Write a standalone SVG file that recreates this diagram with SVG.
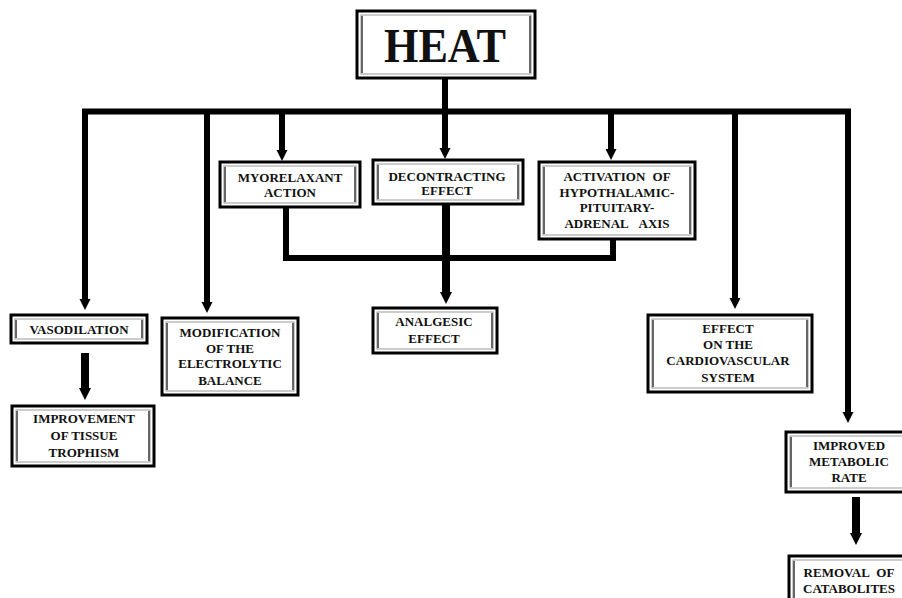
<svg xmlns="http://www.w3.org/2000/svg" width="902" height="598" viewBox="0 0 902 598">
<style>
.box{fill:#fff;stroke:#000;stroke-width:3}
.inner{fill:none;stroke:#999;stroke-width:1}
.side{stroke:#666;stroke-width:2}
.t{font-family:"Liberation Serif","Times New Roman",serif;font-weight:bold;font-size:13px;text-anchor:middle;fill:#111}
.big{font-size:48px}
.c{fill:none;stroke:#000;stroke-width:6;stroke-linejoin:miter}
.c8{stroke-width:8}
.ws{word-spacing:4px}
</style>
<defs>
<marker id="ah" markerUnits="userSpaceOnUse" viewBox="0 0 10 10" refX="0" refY="5" markerWidth="11" markerHeight="18" orient="auto-start-reverse">
<path d="M0,0 L10,5 L0,10 z" fill="#000"/>
</marker>
<marker id="ah2" markerUnits="userSpaceOnUse" viewBox="0 0 10 10" refX="0" refY="5" markerWidth="12" markerHeight="20" orient="auto">
<path d="M0,0 L10,5 L0,10 z" fill="#000"/>
</marker>
</defs>

<g id="connectors">
<path class="c" d="M85,299 V111.5 H848 V412" marker-start="url(#ah)" marker-end="url(#ah)"/>
<path class="c" d="M445,78 V148" marker-end="url(#ah)"/>
<path class="c" d="M207,111.5 V302" marker-end="url(#ah)"/>
<path class="c" d="M282,111.5 V150" marker-end="url(#ah)"/>
<path class="c" d="M611,111.5 V149" marker-end="url(#ah)"/>
<path class="c" d="M735,111.5 V298" marker-end="url(#ah)"/>
<path class="c" d="M286,207 V258 H613 V239"/>
<path class="c c8" d="M446,204 V292" marker-end="url(#ah2)"/>
<path class="c c8" d="M85,353 V388" marker-end="url(#ah2)"/>
<path class="c c8" d="M856,497 V533" marker-end="url(#ah2)"/>
</g>

<g id="heat">
<rect class="box" x="357" y="11" width="178" height="67"/>
<rect class="inner" x="361" y="15" width="170" height="59"/>
<line class="side" x1="362" y1="16" x2="362" y2="73"/><line class="side" x1="530" y1="16" x2="530" y2="73"/>
<text class="t big" x="445" y="62" textLength="122" lengthAdjust="spacingAndGlyphs">HEAT</text>
</g>

<g id="myorelaxant">
<rect class="box" x="220" y="162" width="140" height="45"/>
<rect class="inner" x="224" y="166" width="132" height="37"/>
<line class="side" x1="225" y1="167" x2="225" y2="202"/><line class="side" x1="355" y1="167" x2="355" y2="202"/>
<text class="t" x="290" y="182">MYORELAXANT</text>
<text class="t" x="290" y="197">ACTION</text>
</g>

<g id="decontracting">
<rect class="box" x="373" y="160" width="150" height="44"/>
<rect class="inner" x="377" y="164" width="142" height="36"/>
<line class="side" x1="378" y1="165" x2="378" y2="199"/><line class="side" x1="518" y1="165" x2="518" y2="199"/>
<text class="t" x="447" y="181">DECONTRACTING</text>
<text class="t" x="447" y="195">EFFECT</text>
</g>

<g id="activation">
<rect class="box" x="539" y="162" width="156" height="77"/>
<rect class="inner" x="543" y="166" width="148" height="69"/>
<line class="side" x1="544" y1="167" x2="544" y2="234"/><line class="side" x1="690" y1="167" x2="690" y2="234"/>
<text class="t ws" x="617" y="181">ACTIVATION OF</text>
<text class="t" x="617" y="197">HYPOTHALAMIC-</text>
<text class="t" x="617" y="212">PITUITARY-</text>
<text class="t" x="617" y="228" style="word-spacing:8px">ADRENAL AXIS</text>
</g>

<g id="vasodilation">
<rect class="box" x="11" y="315" width="136" height="28"/>
<rect class="inner" x="15" y="319" width="128" height="20"/>
<line class="side" x1="16" y1="320" x2="16" y2="338"/><line class="side" x1="142" y1="320" x2="142" y2="338"/>
<text class="t" x="79" y="334">VASODILATION</text>
</g>

<g id="modification">
<rect class="box" x="162" y="318" width="136" height="77"/>
<rect class="inner" x="166" y="322" width="128" height="69"/>
<line class="side" x1="167" y1="323" x2="167" y2="390"/><line class="side" x1="293" y1="323" x2="293" y2="390"/>
<text class="t" x="230" y="337">MODIFICATION</text>
<text class="t" x="230" y="353">OF THE</text>
<text class="t" x="230" y="368">ELECTROLYTIC</text>
<text class="t" x="230" y="385">BALANCE</text>
</g>

<g id="analgesic">
<rect class="box" x="373" y="308" width="124" height="45"/>
<rect class="inner" x="377" y="312" width="116" height="37"/>
<line class="side" x1="378" y1="313" x2="378" y2="348"/><line class="side" x1="492" y1="313" x2="492" y2="348"/>
<text class="t" x="434" y="326">ANALGESIC</text>
<text class="t" x="434" y="343">EFFECT</text>
</g>

<g id="cardiovascular">
<rect class="box" x="648" y="315" width="164" height="77"/>
<rect class="inner" x="652" y="319" width="156" height="69"/>
<line class="side" x1="653" y1="320" x2="653" y2="387"/><line class="side" x1="807" y1="320" x2="807" y2="387"/>
<text class="t" x="728" y="333">EFFECT</text>
<text class="t" x="728" y="349">ON THE</text>
<text class="t" x="728" y="365">CARDIOVASCULAR</text>
<text class="t" x="728" y="382">SYSTEM</text>
</g>

<g id="improvement">
<rect class="box" x="12" y="406" width="142" height="60"/>
<rect class="inner" x="16" y="410" width="134" height="52"/>
<line class="side" x1="17" y1="411" x2="17" y2="461"/><line class="side" x1="149" y1="411" x2="149" y2="461"/>
<text class="t" x="84" y="423">IMPROVEMENT</text>
<text class="t" x="84" y="440">OF TISSUE</text>
<text class="t" x="84" y="457">TROPHISM</text>
</g>

<g id="improved">
<rect class="box" x="786" y="432" width="130" height="60"/>
<rect class="inner" x="790" y="436" width="122" height="52"/>
<line class="side" x1="791" y1="437" x2="791" y2="487"/>
<text class="t" x="849" y="450">IMPROVED</text>
<text class="t" x="849" y="466">METABOLIC</text>
<text class="t" x="849" y="482">RATE</text>
</g>

<g id="removal">
<rect class="box" x="789" y="556" width="125" height="50"/>
<rect class="inner" x="793" y="560" width="117" height="42"/>
<line class="side" x1="794" y1="561" x2="794" y2="601"/>
<text class="t ws" x="849" y="577">REMOVAL OF</text>
<text class="t" x="849" y="593">CATABOLITES</text>
</g>
</svg>
